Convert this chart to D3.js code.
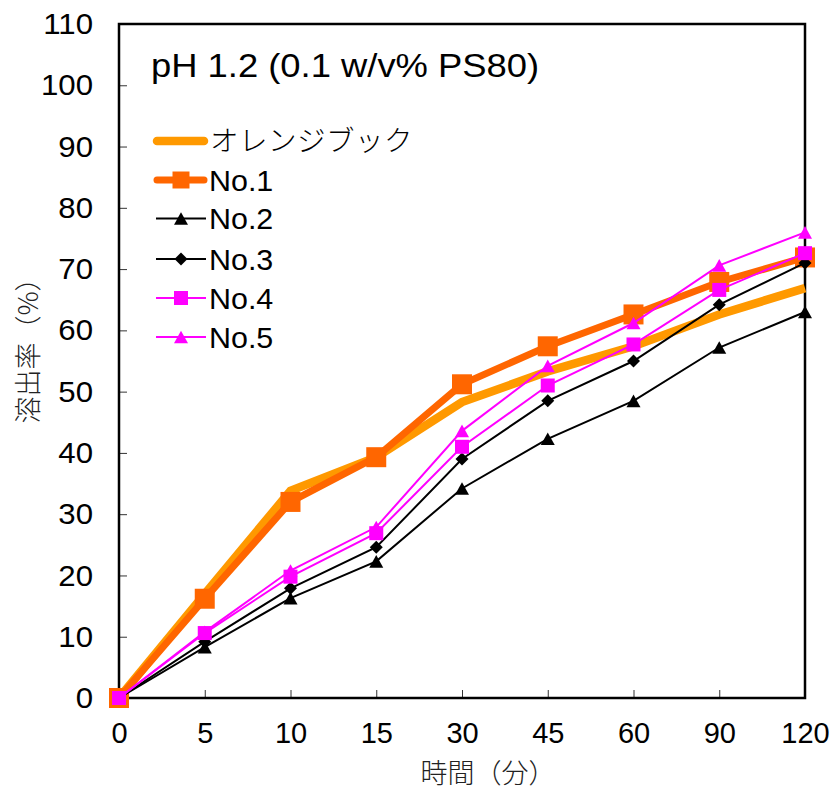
<!DOCTYPE html>
<html><head><meta charset="utf-8">
<script src="https://cdn.jsdelivr.net/npm/d3@7"></script>
<style>body{margin:0;background:#fff}</style>
</head><body>
<svg id="c" width="830" height="791"></svg>
<script>
const categories = ["0","5","10","15","30","45","60","90","120"];
const yTicks = [0,10,20,30,40,50,60,70,80,90,100,110];
const orangeBook = [0,17.0,33.8,39.3,48.3,53.3,57.4,62.6,66.9];
const no1 = [0,16.2,32.0,39.3,51.2,57.4,62.6,67.9,71.9];
const no2 = [0,8.3,16.3,22.3,34.2,42.3,48.5,57.2,63.0];
const no3 = [0,9.2,17.9,24.6,39.0,48.5,55.0,64.2,71.0];
const no4 = [0,10.6,19.8,26.9,41.0,51.0,57.7,66.6,72.6];
const no5 = [0,10.8,20.8,27.9,43.6,54.2,61.2,70.6,76.0];
const seriesNames = ["オレンジブック","No.1","No.2","No.3","No.4","No.5"];

const series = [
  {name:seriesNames[0], values:orangeBook, color:"#FF9900", width:8.5, marker:null, size:0},
  {name:seriesNames[1], values:no1, color:"#FF6600", width:7, marker:"square", size:20},
  {name:seriesNames[2], values:no2, color:"#000000", width:2, marker:"triangle", size:14},
  {name:seriesNames[3], values:no3, color:"#000000", width:2, marker:"diamond", size:13},
  {name:seriesNames[4], values:no4, color:"#FF00FF", width:2, marker:"square", size:14},
  {name:seriesNames[5], values:no5, color:"#FF00FF", width:2, marker:"triangle", size:14}
];

const svg = d3.select("#c");
const L=119, R=805, T=24, B=698;
const x = d3.scalePoint().domain(categories).range([L,R]);
const y = d3.scaleLinear().domain([0,110]).range([B,T]);
const font = "'Liberation Sans', Arial, sans-serif";
const jfont = "'Noto Sans CJK JP', sans-serif";

function stretch(sel, s){
  sel.each(function(){
    const t = d3.select(this);
    const ax = +t.attr("x") || 0;
    t.attr("transform", `translate(${ax},0) scale(${s},1) translate(${-ax},0)`);
  });
}

const gy = svg.append("g").attr("transform",`translate(${L},0)`)
  .call(d3.axisLeft(y).tickValues(yTicks).tickSize(-8).tickPadding(26).tickFormat(d3.format("d")));
gy.select(".domain").remove();
gy.selectAll("line").attr("stroke","#333").attr("stroke-width",1);
gy.selectAll("text").attr("font-family",font).attr("font-size",30).attr("fill","#000").call(stretch,1.04);

const gx = svg.append("g").attr("transform",`translate(0,${B})`)
  .call(d3.axisBottom(x).tickSize(-8).tickPadding(24));
gx.select(".domain").remove();
gx.selectAll("line").attr("stroke","#333").attr("stroke-width",1);
gx.selectAll("text").attr("font-family",font).attr("font-size",29).attr("fill","#000").call(stretch,1.0);

svg.append("rect").attr("x",L).attr("y",T).attr("width",R-L).attr("height",B-T)
  .attr("fill","none").attr("stroke","#000").attr("stroke-width",2.5);

function markerPath(type,s){
  if(type==="square") return `M${-s/2},${-s/2}h${s}v${s}h${-s}Z`;
  if(type==="triangle") { const h=s*0.9; return `M0,${-h/2}L${s/2},${h/2}L${-s/2},${h/2}Z`; }
  if(type==="diamond") return `M0,${-s/2}L${s/2},0L0,${s/2}L${-s/2},0Z`;
  return null;
}

const line = d3.line().x((d,i)=>x(categories[i])).y(d=>y(d));
series.forEach(s=>{
  svg.append("path").datum(s.values).attr("d",line).attr("fill","none")
    .attr("stroke",s.color).attr("stroke-width",s.width).attr("stroke-linejoin","miter");
  if(s.marker){
    svg.append("g").selectAll("path").data(s.values).join("path")
      .attr("d",markerPath(s.marker,s.size))
      .attr("transform",(d,i)=>`translate(${x(categories[i])},${y(d)})`)
      .attr("fill",s.color);
  }
});

// title
svg.append("text").attr("x",151).attr("y",77).attr("font-family",font).attr("font-size",34)
  .attr("fill","#000").text("pH 1.2 (0.1 w/v% PS80)").call(stretch,1.07);

// legend
const legY = [141,180,218.5,259,298,337];
series.forEach((s,i)=>{
  const g = svg.append("g").attr("transform",`translate(0,${legY[i]})`);
  g.append("line").attr("x1",i<2?157:156).attr("x2",i<2?204:206).attr("y1",0).attr("y2",0)
    .attr("stroke",s.color).attr("stroke-width",s.width).attr("stroke-linecap", i<2?"round":"butt");
  if(s.marker) g.append("path").attr("d",markerPath(s.marker,i===1?17:s.size)).attr("transform","translate(181,0)").attr("fill",s.color);
  const t = g.append("text").attr("x",i===0?210:209).attr("y",i===0?10:10.5)
    .attr("font-family", i===0?jfont:font)
    .attr("font-size",i===0?28.5:29).attr("fill","#000").text(s.name);
  if(i===0) t.attr("font-weight",300).attr("letter-spacing",0.5);
  else t.call(stretch,1.05);
});

// axis titles
svg.append("text").attr("x",488).attr("y",783).attr("text-anchor","middle")
  .attr("font-family",jfont).attr("font-size",27).attr("font-weight",300).attr("fill","#222")
  .text("時間（分）");
svg.append("text").attr("transform","translate(38,344) rotate(-90)").attr("text-anchor","middle")
  .attr("font-family",jfont).attr("font-size",27).attr("font-weight",300).attr("fill","#222")
  .text("溶出率（%）");
</script>
</body></html>
